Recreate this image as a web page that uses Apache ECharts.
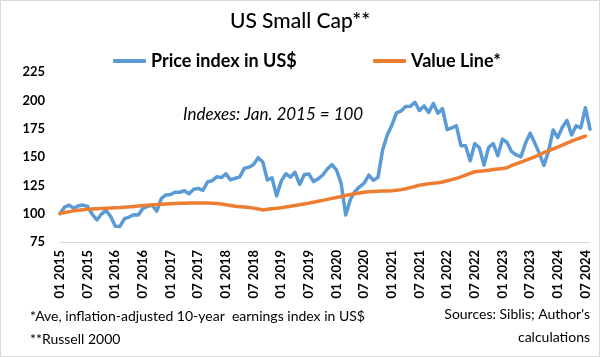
<!DOCTYPE html>
<html>
<head>
<meta charset="utf-8">
<script src="https://cdn.jsdelivr.net/npm/echarts@6/dist/echarts.min.js"></script>
<style>
html,body{margin:0;padding:0;background:#fff;}
#c{width:600px;height:357px;}
</style>
</head>
<body>
<div id="c"></div>
<script>
// Months Jan 2015 .. Aug 2024
const years = [2015,2016,2017,2018,2019,2020,2021,2022,2023,2024];
const categories = [];
years.forEach(y => {
  for (let m = 1; m <= 12; m++) {
    if (y === 2024 && m > 8) break;
    categories.push((m < 10 ? '0' + m : '' + m) + ' ' + y);
  }
});

const priceIndex = [
  100,105.8,107.5,104.7,107.0,107.6,106.3,99.5,94.4,99.7,102.8,97.5,
  88.8,88.7,95.6,97.0,99.1,98.8,104.7,106.4,107.4,102.2,113.5,116.5,
  116.9,119.0,118.9,120.2,117.6,121.5,122.3,120.6,127.9,129.0,132.5,131.8,
  135.1,129.8,131.2,132.3,140.2,141.0,143.4,149.4,145.6,129.7,131.6,115.7,
  128.7,135.2,132.2,136.5,125.8,134.4,135.1,128.3,130.7,134.1,139.4,143.2,
  138.5,126.7,98.9,112.5,119.6,123.7,127.0,134.0,129.4,132.0,156.2,169.5,
  177.9,188.9,190.5,194.5,194.7,198.3,191.0,195.1,189.2,197.1,188.7,192.7,
  174.1,175.7,177.6,160.0,160.0,146.6,161.8,158.2,142.8,158.5,161.9,151.1,
  165.8,162.8,154.7,151.8,150.1,162.1,171.0,162.5,153.2,142.6,155.2,173.9,
  167.1,176.3,182.3,169.4,177.6,175.7,193.5,174.5
];

const valueLine = [
  100,101,101.8,102.5,103,103.5,104,104.2,104.4,104.6,104.8,105,
  105.2,105.4,105.7,106,106.4,106.8,107.2,107.5,107.8,108,108.3,108.6,
  108.8,109,109.2,109.3,109.4,109.5,109.5,109.5,109.4,109.3,109,108.5,
  107.8,107.2,106.6,106.2,105.8,105.4,104.9,104.2,103.3,103.8,104.3,104.8,
  105.2,105.9,106.6,107.2,107.9,108.6,109.3,110.1,110.9,111.7,112.6,113.5,
  114.3,115.2,116.1,116.9,117.6,118.3,118.9,119.3,119.6,119.8,120,120.1,
  120.3,120.6,121.2,122,123,124,125.2,125.8,126.3,126.8,127.3,128,
  129,130,131.2,132.5,134,135.5,137,137.4,137.8,138.3,139,139.5,
  139.8,140.5,142.5,144,145.5,147,148.5,150.2,152,153.8,155.5,157.2,
  158.8,160.5,162.2,164,165.6,167,168.5
];

const seriesNames = ['Price index in US$', 'Value Line*'];
const yTicks = {min: 75, max: 225, interval: 25};

const FONT = 'Lato, "Open Sans", sans-serif';
const chart = echarts.init(document.getElementById('c'), null, {renderer: 'canvas'});
chart.setOption({
  animation: false,
  backgroundColor: '#fff',
  title: {
    text: 'US Small Cap**',
    left: 'center',
    top: 6,
    textStyle: {fontFamily: FONT, fontSize: 21, fontWeight: 500, color: '#000'}
  },
  legend: [
    {
      data: [{name: seriesNames[0], icon: 'roundRect'}],
      left: 108, top: 47, itemWidth: 33, itemHeight: 4, itemGap: 5,
      textStyle: {fontFamily: FONT, fontSize: 18, fontWeight: 'bold', color: '#000'}
    },
    {
      data: [{name: seriesNames[1], icon: 'roundRect'}],
      left: 368, top: 47, itemWidth: 33, itemHeight: 4, itemGap: 5,
      textStyle: {fontFamily: FONT, fontSize: 18, fontWeight: 'bold', color: '#000'}
    }
  ],
  grid: {left: 60, right: 10, top: 72, bottom: 115, containLabel: false},
  xAxis: {
    type: 'category',
    data: categories,
    boundaryGap: false,
    axisLine: {lineStyle: {color: '#d9d9d9', width: 1}},
    axisTick: {show: false},
    axisLabel: {
      interval: 5, rotate: 90, margin: 8,
      fontFamily: FONT, fontSize: 13, fontWeight: 'bold', color: '#000'
    },
    splitLine: {show: false}
  },
  yAxis: {
    type: 'value',
    min: yTicks.min, max: yTicks.max, interval: yTicks.interval,
    axisLine: {show: false},
    axisTick: {show: false},
    splitLine: {show: false},
    axisLabel: {margin: 15, fontFamily: FONT, fontSize: 13, fontWeight: 'bold', color: '#000'}
  },
  series: [
    {
      name: seriesNames[0], type: 'line', data: priceIndex,
      showSymbol: false, symbol: 'none',
      lineStyle: {color: '#5B9BD5', width: 3.5, join: 'round', cap: 'round'},
      itemStyle: {color: '#5B9BD5'}, z: 2
    },
    {
      name: seriesNames[1], type: 'line', data: valueLine,
      showSymbol: false, symbol: 'none',
      lineStyle: {color: '#ED7D31', width: 3.5, join: 'round', cap: 'round'},
      itemStyle: {color: '#ED7D31'}, z: 3
    }
  ],
  graphic: [
    {type: 'rect', shape: {x: 0.5, y: 0.5, width: 599, height: 356},
     style: {fill: 'none', stroke: '#d9d9d9', lineWidth: 1}, silent: true},
    {type: 'text', left: 183, top: 106,
     style: {text: 'Indexes: Jan. 2015 = 100', font: 'italic 17px ' + FONT, fill: '#000'}},
    {type: 'text', left: 30, top: 309,
     style: {text: '*Ave, inflation-adjusted 10-year  earnings index in US$', font: '14px ' + FONT, fill: '#000'}},
    {type: 'text', left: 30, top: 332,
     style: {text: '**Russell 2000', font: '14px ' + FONT, fill: '#000'}},
    {type: 'text', right: 10, top: 307,
     style: {text: "Sources: Siblis; Author's", font: '14px ' + FONT, fill: '#000', textAlign: 'right'}},
    {type: 'text', right: 10, top: 330,
     style: {text: 'calculations', font: '14px ' + FONT, fill: '#000', textAlign: 'right'}}
  ]
});
</script>
</body>
</html>
